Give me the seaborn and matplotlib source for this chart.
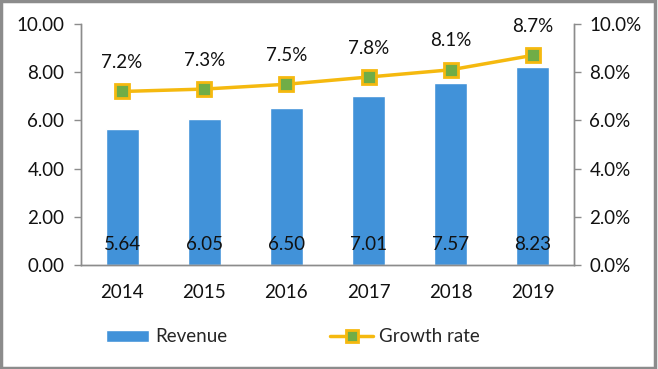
import matplotlib
matplotlib.use("Agg")
import matplotlib.pyplot as plt
import seaborn as sns
import pandas as pd
from matplotlib.patches import Rectangle
from matplotlib.ticker import FuncFormatter
from matplotlib.lines import Line2D
from matplotlib.patches import Patch

# chart data
years = ["2014", "2015", "2016", "2017", "2018", "2019"]
revenue = [5.64, 6.05, 6.50, 7.01, 7.57, 8.23]
growth = [7.2, 7.3, 7.5, 7.8, 8.1, 8.7]  # percent

bar_color = "#4192D9"
line_color = "#F5B90F"
marker_color = "#70AD47"
spine_color = "#8C8C8C"
fs = 13.5

sns.set_style("white")
plt.rcParams["font.family"] = ["Lato", "DejaVu Sans"]

df = pd.DataFrame({"year": years, "revenue": revenue, "growth": growth})

fig = plt.figure(figsize=(6.58, 3.69), dpi=100)
ax = fig.add_axes([81 / 658, 1 - 265 / 369, (574 - 81) / 658, (265 - 24) / 369])

sns.barplot(data=df, x="year", y="revenue", color=bar_color, width=0.4,
            saturation=1, ax=ax)
ax.set_xlim(-0.5, 5.5)
ax.set_ylim(0, 10)
ax.set_yticks([0, 2, 4, 6, 8, 10])
ax.yaxis.set_major_formatter(FuncFormatter(lambda v, p: f"{v:.2f}"))
ax.set_xlabel("")
ax.set_ylabel("")

for i, v in enumerate(revenue):
    ax.text(i, 0.87, f"{v:.2f}", ha="center", va="center", fontsize=fs, color="#111111")

ax2 = ax.twinx()
ax2.plot(range(len(years)), growth, color=line_color, lw=2.5, marker="s",
         markersize=10, markerfacecolor=marker_color, markeredgecolor=line_color,
         markeredgewidth=2, zorder=5)
ax2.set_ylim(0, 10)
ax2.set_yticks([0, 2, 4, 6, 8, 10])
ax2.yaxis.set_major_formatter(FuncFormatter(lambda v, p: f"{v:.1f}%"))
for i, g in enumerate(growth):
    ax2.text(i, g + 1.2, f"{g:.1f}%", ha="center", va="center", fontsize=fs, color="#111111")

for a in (ax, ax2):
    a.spines["top"].set_visible(False)
    for s in ("left", "right", "bottom"):
        a.spines[s].set_color(spine_color)
        a.spines[s].set_linewidth(1)
    a.tick_params(axis="both", direction="out", length=5, width=1, color=spine_color,
                  labelsize=fs, labelcolor="#111111", pad=4)

# category boundary ticks on x axis
ax.set_xticks([-0.5, 0.5, 1.5, 2.5, 3.5, 4.5, 5.5], minor=True)
ax.tick_params(axis="x", which="major", length=0, pad=14)
ax.tick_params(axis="x", which="minor", length=5, color=spine_color, direction="out")
ax.tick_params(axis="y", left=True, pad=7)
ax2.tick_params(axis="y", right=True, pad=6)

handles = [Patch(facecolor=bar_color, label="Revenue"),
           Line2D([0], [0], color=line_color, lw=2.5, marker="s", markersize=9,
                  markerfacecolor=marker_color, markeredgecolor=line_color,
                  markeredgewidth=2, label="Growth rate")]
fig.legend(handles=handles, loc="center", bbox_to_anchor=(0.445, 1 - 337 / 369),
           ncol=2, frameon=False, fontsize=fs, handlelength=2.3, handleheight=0.6,
           columnspacing=5.5, handletextpad=0.3)

# outer gray frame
fig.patches.append(Rectangle((0.002, 0.004), 0.994, 0.992, transform=fig.transFigure,
                             fill=False, edgecolor="#8C8C8C", lw=2.5))

fig.savefig("out.png", dpi=100)
